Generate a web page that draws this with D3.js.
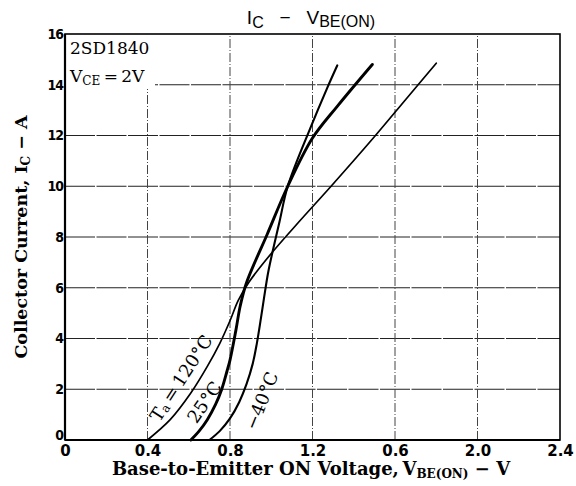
<!DOCTYPE html>
<html>
<head>
<meta charset="utf-8">
<script src="https://cdn.jsdelivr.net/npm/d3@7/dist/d3.min.js"></script>
<style>
  body { margin: 0; background: #fff; }
</style>
</head>
<body>
<svg id="chart" width="576" height="486"></svg>
<script>
// axis ticks (the 1.6 label is misprinted as 0.6 in the datasheet)
var xTicks = [0, 0.4, 0.8, 1.2, 1.6, 2.0, 2.4];
var xTickLabels = ["0", "0.4", "0.8", "1.2", "0.6", "2.0", "2.4"];
var yTicks = [0, 2, 4, 6, 8, 10, 12, 14, 16];

// [VBE(ON) in V, IC in A]
var curve120 = [[0.40, 0], [0.51, 0.8], [0.61, 1.85], [0.69, 2.9], [0.75, 3.8],
  [0.80, 4.7], [0.84, 5.5], [0.89, 6.2], [1.00, 7.35], [1.14, 8.65],
  [1.29, 10.0], [1.50, 11.95], [1.65, 13.4], [1.80, 14.85]];
var curve25 = [[0.61, 0], [0.65, 0.35], [0.69, 0.8], [0.73, 1.4], [0.76, 2.0],
  [0.785, 2.7], [0.80, 3.15], [0.828, 4.3], [0.85, 5.3], [0.88, 6.2],
  [0.98, 8.1], [1.08, 10.0], [1.20, 11.9], [1.32, 13.15], [1.49, 14.8]];
var curveM40 = [[0.70, 0], [0.75, 0.35], [0.80, 0.85], [0.845, 1.5], [0.88, 2.2],
  [0.91, 3.0], [0.93, 3.8], [0.95, 4.8], [0.965, 5.6], [0.985, 6.6],
  [1.01, 7.55], [1.04, 8.6], [1.08, 10.0], [1.19, 12.3], [1.27, 13.85], [1.32, 14.76]];

var svg = d3.select("#chart");

var x = d3.scaleLinear().domain([0, 2.4]).range([65, 560]);
var y = d3.scaleLinear().domain([0, 16]).range([440, 34]);

// grid
svg.append("g").selectAll("line")
  .data(yTicks.slice(1, -1))
  .enter().append("line")
  .attr("x1", x(0)).attr("x2", x(2.4))
  .attr("y1", function(d){ return y(d); })
  .attr("y2", function(d){ return y(d); })
  .attr("stroke", "#222")
  .attr("stroke-width", 1)
  .attr("stroke-dasharray", "30,1.5");

svg.append("g").selectAll("line")
  .data(xTicks.slice(1, -1))
  .enter().append("line")
  .attr("x1", function(d){ return x(d); })
  .attr("x2", function(d){ return x(d); })
  .attr("y1", y(0)).attr("y2", y(16))
  .attr("stroke", "#444")
  .attr("stroke-width", 1)
  .attr("stroke-dasharray", "9,2,1,2");

// white patch behind the part number block
svg.append("rect")
  .attr("x", x(0) + 1).attr("y", y(16) + 1)
  .attr("width", 89).attr("height", 54)
  .attr("fill", "#fff");

svg.append("text")
  .attr("x", 70).attr("y", 54)
  .attr("font-family", "DejaVu Serif")
  .attr("font-size", 17)
  .text("2SD1840");

var vce = svg.append("text")
  .attr("x", 70).attr("y", 82)
  .attr("font-family", "DejaVu Serif")
  .attr("font-size", 17);
vce.append("tspan").text("V");
vce.append("tspan").attr("font-size", 12).attr("dy", 3).text("CE");
vce.append("tspan").attr("dy", -3).text("\u2009=\u20092V");

// curves
var line = d3.line()
  .x(function(d){ return x(d[0]); })
  .y(function(d){ return y(d[1]); })
  .curve(d3.curveCatmullRom.alpha(0.5));

var curves = [
  {data: curve120, w: 1.7},
  {data: curve25, w: 2.9},
  {data: curveM40, w: 2.1}
];

svg.append("g").selectAll("path")
  .data(curves)
  .enter().append("path")
  .attr("d", function(d){ return line(d.data); })
  .attr("fill", "none")
  .attr("stroke", "#000")
  .attr("stroke-width", function(d){ return d.w; })
  .attr("stroke-linecap", "round");

// frame
svg.append("rect")
  .attr("x", x(0)).attr("y", y(16))
  .attr("width", x(2.4) - x(0)).attr("height", y(0) - y(16))
  .attr("fill", "none")
  .attr("stroke", "#000")
  .attr("stroke-width", 1.6);
svg.append("line")
  .attr("x1", x(0)).attr("x2", x(0)).attr("y1", y(16)).attr("y2", y(0))
  .attr("stroke", "#000").attr("stroke-width", 2.2);
svg.append("line")
  .attr("x1", x(0)).attr("x2", x(2.4)).attr("y1", y(0)).attr("y2", y(0))
  .attr("stroke", "#000").attr("stroke-width", 2.2);

// axes (labels only)
var xAxis = d3.axisBottom(x)
  .tickValues(xTicks)
  .tickSize(0)
  .tickPadding(5)
  .tickFormat(function(d, i){ return xTickLabels[i]; });
var gx = svg.append("g")
  .attr("transform", "translate(0," + y(0) + ")")
  .call(xAxis);
gx.select(".domain").remove();
gx.selectAll("text")
  .attr("font-family", "DejaVu Sans")
  .attr("font-weight", "bold")
  .attr("font-size", 15)
  .attr("fill", "#000");

var yAxis = d3.axisLeft(y)
  .tickValues(yTicks)
  .tickSize(0)
  .tickPadding(2)
  .tickFormat(d3.format("d"));
var gy = svg.append("g")
  .attr("transform", "translate(" + x(0) + ",0)")
  .call(yAxis);
gy.select(".domain").remove();
gy.selectAll("text")
  .attr("font-family", "DejaVu Sans Condensed, DejaVu Sans")
  .attr("font-weight", "bold")
  .attr("font-size", 14)
  .attr("letter-spacing", -1)
  .attr("fill", "#000")
  .attr("dy", function(d){ return d === 0 ? "-0.05em" : "0.32em"; });

// curve labels
function curveLabel(v, i, angle) {
  return svg.append("text")
    .attr("transform", "translate(" + x(v) + "," + y(i) + ") rotate(" + angle + ")")
    .attr("text-anchor", "middle")
    .attr("dominant-baseline", "central")
    .attr("font-family", "DejaVu Serif")
    .attr("font-size", 18);
}
var t1 = curveLabel(0.560, 2.45, -57);
t1.append("tspan").text("T");
t1.append("tspan").attr("font-size", 12).attr("dy", 4).text("a");
t1.append("tspan").attr("dy", -4).text("\u2009=\u2009120\u00b0C");
curveLabel(0.675, 1.5, -55).text("25\u00b0C");
curveLabel(0.952, 1.55, -68).text("\u221240\u00b0C");

// title
var title = svg.append("text")
  .attr("x", 311).attr("y", 24)
  .attr("text-anchor", "middle")
  .attr("font-family", "Liberation Sans")
  .attr("font-size", 19);
title.append("tspan").text("I");
title.append("tspan").attr("font-size", 16).attr("dy", 4).text("C");
title.append("tspan").attr("dy", -4).attr("xml:space", "preserve").text("   \u2212   V");
title.append("tspan").attr("font-size", 16).attr("dy", 3).text("BE(ON)");

// axis titles
var xt = svg.append("text")
  .attr("x", 311).attr("y", 475)
  .attr("text-anchor", "middle")
  .attr("font-family", "DejaVu Serif")
  .attr("font-weight", "bold")
  .attr("font-size", 18);
xt.append("tspan").text("Base-to-Emitter ON Voltage,\u2009V");
xt.append("tspan").attr("font-size", 12).attr("dy", 3).text("BE(ON)");
xt.append("tspan").attr("dy", -3).text(" \u2212 V");

var yt = svg.append("text")
  .attr("transform", "translate(27,237) rotate(-90)")
  .attr("text-anchor", "middle")
  .attr("font-family", "DejaVu Serif")
  .attr("font-weight", "bold")
  .attr("font-size", 17.5);
yt.append("tspan").text("Collector Current, I");
yt.append("tspan").attr("font-size", 12).attr("dy", 3).text("C");
yt.append("tspan").attr("dy", -3).text(" \u2212 A");
</script>
</body>
</html>
